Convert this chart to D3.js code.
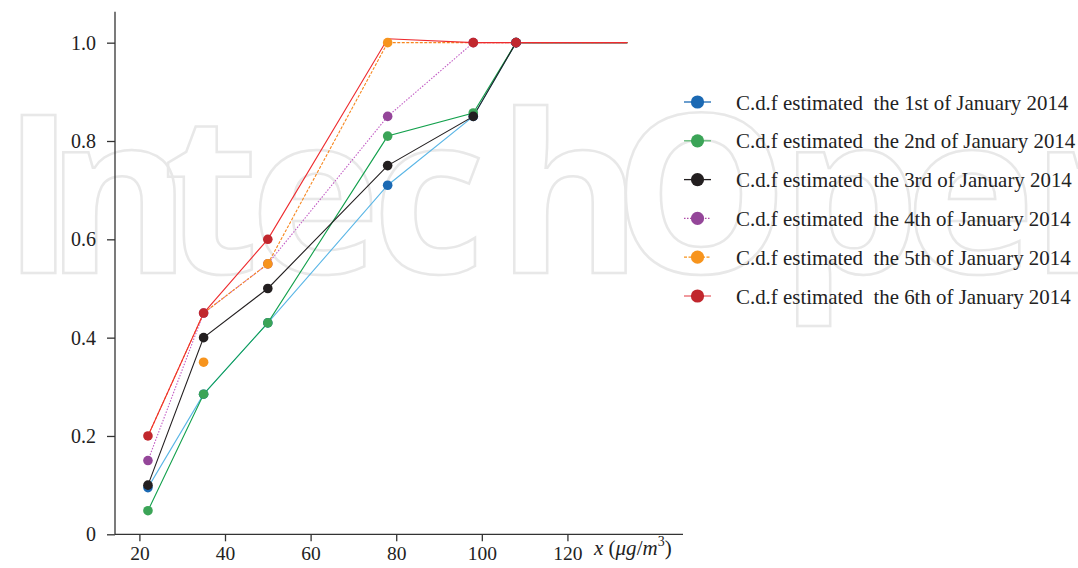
<!DOCTYPE html>
<html>
<head>
<meta charset="utf-8">
<script src="https://cdn.jsdelivr.net/npm/d3@7"></script>
<style>
  body { margin: 0; background: #fff; }
  text { font-family: "Liberation Serif", "Times New Roman", serif; fill: #222; }
</style>
</head>
<body>
<div id="chart"></div>
<script>
// concentration levels (x) and estimated c.d.f values per day
var xVals = [22, 35, 50, 78, 98, 108, 134];
var day1 = [0.095, 0.285, 0.43, 0.71, 0.85, 1.0, 1.0];
var day2 = [0.048, 0.285, 0.43, 0.81, 0.857, 1.0, 1.0];
var day3 = [0.10, 0.40, 0.50, 0.75, 0.85, 1.0, 1.0];
var day4 = [0.15, 0.45, 0.55, 0.85, 1.0, 1.0, 1.0];
var day5 = [0.20, 0.45, 0.55, 1.0, 1.0, 1.0, 1.0];
var day6 = [0.20, 0.45, 0.60, 1.008, 1.0, 1.0, 1.0];
// markers drawn where they show in the figure (null = no visible marker)
var day5Marks = [null, 0.35, 0.55, 1.0, null, null, null];
var day6Marks = [0.20, 0.45, 0.60, null, 1.0, 1.0, null];
var yTicks = [0, 0.2, 0.4, 0.6, 0.8, 1.0];
var xTicks = [20, 40, 60, 80, 100, 120];
var labels = [
  "C.d.f estimated  the 1st of January 2014",
  "C.d.f estimated  the 2nd of January 2014",
  "C.d.f estimated  the 3rd of January 2014",
  "C.d.f estimated  the 4th of January 2014",
  "C.d.f estimated  the 5th of January 2014",
  "C.d.f estimated  the 6th of January 2014"
];

var series = [
  {vals: day1, marks: day1.slice(0, 6), line: "#5ab6e6", dot: "#1b69b3", key: "#1b69b3", dash: null},
  {vals: day2, marks: day2.slice(0, 6), line: "#12a04c", dot: "#3ba457", key: "#5fb874", dash: null},
  {vals: day3, marks: day3.slice(0, 6), line: "#231f20", dot: "#231f20", key: "#231f20", dash: null},
  {vals: day4, marks: day4.slice(0, 6), line: "#c25cc4", dot: "#944699", key: "#b04aa8", dash: "1.5,1.5"},
  {vals: day5, marks: day5Marks, line: "#f7871f", dot: "#f7941d", key: "#f7941d", dash: "3,1.5"},
  {vals: day6, marks: day6Marks, line: "#ee2b2f", dot: "#c1272d", key: "#e8646a", dash: null}
];

var svgWidth = 1078, svgHeight = 568;

var svg = d3.select("#chart")
  .append("svg")
  .attr("width", svgWidth)
  .attr("height", svgHeight);

// faint watermark behind the plot
svg.append("text")
  .attr("x", "2 46 163 250 372 497 613 780 905 1031")
  .attr("y", 273)
  .style("font-family", "'Open Sans', sans-serif")
  .style("font-weight", 700)
  .style("font-size", "221px")
  .style("fill", "none")
  .style("stroke", "#e8e8e8")
  .style("stroke-width", 2.5)
  .text("IntechOpen");

var xScale = d3.scaleLinear().domain([14.3, 147]).range([115, 683]);
var yScale = d3.scaleLinear().domain([0, 1.063]).range([534.3, 11.7]);

// x axis
var xAxis = svg.append("g")
  .attr("transform", "translate(0,534.3)")
  .call(d3.axisBottom(xScale).tickValues(xTicks).tickSize(7).tickPadding(5).tickFormat(d3.format("d")));
xAxis.select(".domain").attr("d", "M115,0H683").attr("stroke", "#333").attr("stroke-width", 1.3);
xAxis.selectAll(".tick line").attr("stroke", "#333").attr("stroke-width", 1.3);
xAxis.selectAll(".tick text").style("font-size", "19.5px").style("fill", "#222")
  .style("font-family", "'Liberation Serif', serif");

// y axis
var yAxis = svg.append("g")
  .attr("transform", "translate(115,0)")
  .call(d3.axisLeft(yScale).tickValues(yTicks).tickSize(8).tickPadding(11)
    .tickFormat(function (d) { return d === 0 ? "0" : d3.format(".1f")(d); }));
yAxis.select(".domain").attr("d", "M0,534.3V11.7").attr("stroke", "#333").attr("stroke-width", 1.3);
yAxis.selectAll(".tick line").attr("stroke", "#333").attr("stroke-width", 1.3);
yAxis.selectAll(".tick text").style("font-size", "20px").style("fill", "#222")
  .style("font-family", "'Liberation Serif', serif");

// axis label x (μg/m3)
var xl = svg.append("text")
  .attr("x", 594)
  .attr("y", 555)
  .style("font-size", "21px")
  .style("font-style", "italic")
  .style("white-space", "pre");
xl.append("tspan").text("x ");
xl.append("tspan").style("font-style", "normal").text("(");
xl.append("tspan").text("μg");
xl.append("tspan").style("font-style", "normal").text("/");
xl.append("tspan").text("m");
xl.append("tspan").attr("dy", -9).style("font-size", "14px").style("font-style", "normal").text("3");
xl.append("tspan").attr("dy", 9).style("font-style", "normal").text(")");

var line = d3.line()
  .x(function (d, i) { return xScale(xVals[i]); })
  .y(function (d) { return yScale(d); });

series.forEach(function (s) {
  svg.append("path")
    .datum(s.vals)
    .attr("d", line)
    .attr("fill", "none")
    .attr("stroke", s.line)
    .attr("stroke-width", 1.1)
    .attr("stroke-dasharray", s.dash);
});

series.forEach(function (s) {
  svg.selectAll(null)
    .data(s.marks.map(function (v, i) { return {x: xVals[i], y: v}; }).filter(function (d) { return d.y !== null; }))
    .enter()
    .append("circle")
    .attr("cx", function (d) { return xScale(d.x); })
    .attr("cy", function (d) { return yScale(d.y); })
    .attr("r", 4.8)
    .attr("fill", s.dot);
});

// legend
var legend = svg.append("g");
series.forEach(function (s, i) {
  var y = 102 + i * 38.8;
  legend.append("line")
    .attr("x1", 684).attr("x2", 711)
    .attr("y1", y).attr("y2", y)
    .attr("stroke", s.key)
    .attr("stroke-width", 1.3)
    .attr("stroke-dasharray", s.dash);
  legend.append("circle")
    .attr("cx", 697.5).attr("cy", y)
    .attr("r", 6.6)
    .attr("fill", s.dot);
  legend.append("text")
    .attr("transform", "translate(736," + (y + 7.5) + ") scale(0.95,1)")
    .style("font-size", "22px")
    .style("white-space", "pre")
    .text(labels[i]);
});
</script>
</body>
</html>
